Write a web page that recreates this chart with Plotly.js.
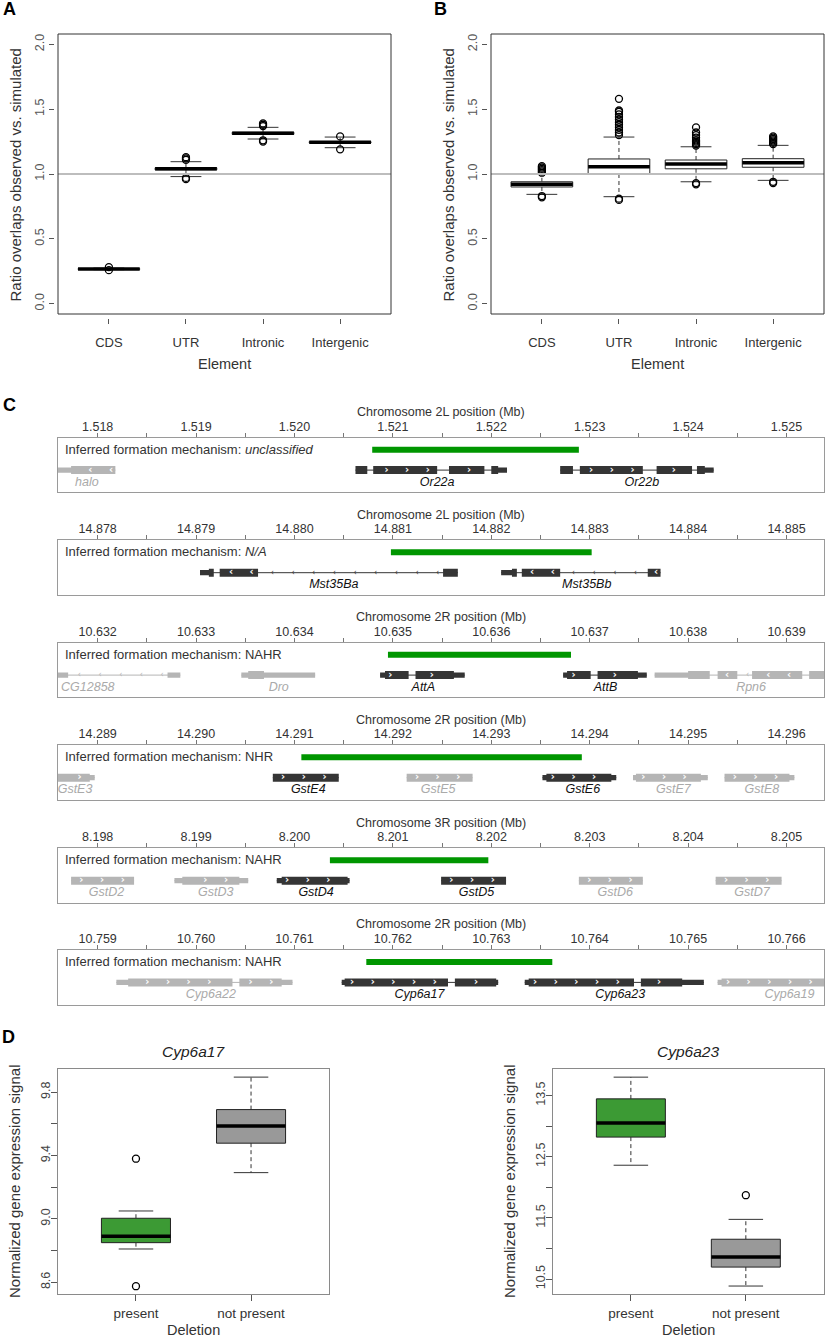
<!DOCTYPE html>
<html>
<head>
<meta charset="utf-8">
<script src="https://cdn.plot.ly/plotly-3.0.1.min.js"></script>
<style>
  body { margin: 0; background: #fff; }
  #plot { width: 827px; height: 1337px; }
</style>
</head>
<body>
<div id="plot"></div>
<script>
const W = 827, H = 1337;
const FONT = 'Liberation Sans, Arial, sans-serif';

// ---------- panels A and B: overlap ratio observed vs. simulated ----------
const elements = ['CDS', 'UTR', 'Intronic', 'Intergenic'];
const ratioTicks = [0, 0.5, 1, 1.5, 2];
const ratioTickText = ['0.0', '0.5', '1.0', '1.5', '2.0'];
const expectedRatio = 1.0;

const aLow  = [0.262, 0.98, 1.27, 1.203];
const aQ1   = [0.264, 1.032, 1.306, 1.239];
const aMed  = [0.267, 1.04, 1.314, 1.244];
const aQ3   = [0.270, 1.048, 1.322, 1.25];
const aHigh = [0.274, 1.095, 1.36, 1.285];
const aOutliers = [
  [0.258, 0.282],
  [0.96, 0.97, 1.11, 1.12, 1.13],
  [1.25, 1.26, 1.37, 1.38, 1.39],
  [1.19, 1.29]
];

const bLow  = [0.843, 0.825, 0.94, 0.951];
const bQ1   = [0.90, 1.0, 1.04, 1.052];
const bMed  = [0.92, 1.056, 1.077, 1.087];
const bQ3   = [0.94, 1.116, 1.108, 1.118];
const bHigh = [1.0, 1.285, 1.21, 1.221];
const bOutliers = [
  [0.82, 0.83, 1.01, 1.02, 1.03, 1.04, 1.05, 1.06],
  [0.80, 0.81, 1.30, 1.32, 1.34, 1.36, 1.38, 1.40, 1.42, 1.44, 1.46, 1.48, 1.49, 1.58],
  [0.92, 0.93, 1.22, 1.23, 1.24, 1.25, 1.26, 1.28, 1.30, 1.32, 1.36],
  [0.93, 0.94, 1.23, 1.24, 1.25, 1.26, 1.27, 1.28, 1.29]
];

// ---------- panel C: deletion tracks ----------
const trackChrom = ['2L', '2L', '2R', '2R', '3R', '2R'];
const trackMechanism = ['<i>unclassified</i>', '<i>N/A</i>', 'NAHR', 'NHR', 'NAHR', 'NAHR'];
const trackTicks = [
  [1.518, 1.519, 1.520, 1.521, 1.522, 1.523, 1.524, 1.525],
  [14.878, 14.879, 14.880, 14.881, 14.882, 14.883, 14.884, 14.885],
  [10.632, 10.633, 10.634, 10.635, 10.636, 10.637, 10.638, 10.639],
  [14.289, 14.290, 14.291, 14.292, 14.293, 14.294, 14.295, 14.296],
  [8.198, 8.199, 8.200, 8.201, 8.202, 8.203, 8.204, 8.205],
  [10.759, 10.760, 10.761, 10.762, 10.763, 10.764, 10.765, 10.766]
];
const deletionStart = [1.52079, 14.88098, 10.63495, 14.29107, 8.20036, 10.76173];
const deletionEnd   = [1.52289, 14.88302, 10.63681, 14.29392, 8.20197, 10.76362];

// hit = gene overlapped by the deletion (drawn dark)
const trackGenes = [
  [
    {name: 'halo', strand: '-', hit: false, utr: [[1.51740, 1.51773]], cds: [[1.51773, 1.51818]], labelAt: 1.51789},
    {name: 'Or22a', strand: '+', hit: true, utr: [[1.52207, 1.52216]],
     cds: [[1.52062, 1.52074], [1.52080, 1.52145], [1.52157, 1.52193], [1.52200, 1.52207]], labelAt: 1.52145},
    {name: 'Or22b', strand: '+', hit: true, utr: [[1.52417, 1.52426]],
     cds: [[1.52270, 1.52283], [1.52290, 1.52354], [1.52368, 1.52404], [1.52409, 1.52417]], labelAt: 1.52353}
  ],
  [
    {name: 'Mst35Ba', strand: '-', hit: true, utr: [[14.87904, 14.87913]],
     cds: [[14.87913, 14.87918], [14.87924, 14.87963], [14.88151, 14.88166]], labelAt: 14.88040},
    {name: 'Mst35Bb', strand: '-', hit: true, utr: [[14.88210, 14.88221]],
     cds: [[14.88221, 14.88226], [14.88231, 14.88270], [14.88359, 14.88372]], labelAt: 14.88297}
  ],
  [
    {name: 'CG12858', strand: '-', hit: false, utr: [[10.63150, 10.63170], [10.63271, 10.63284]], cds: [], labelAt: 10.63190},
    {name: 'Dro', strand: '+', hit: false, utr: [[10.63346, 10.63353], [10.63369, 10.63421]], cds: [[10.63353, 10.63369]], labelAt: 10.63384},
    {name: 'AttA', strand: '+', hit: true, utr: [[10.63487, 10.63492], [10.63562, 10.63573]],
     cds: [[10.63492, 10.63516], [10.63523, 10.63562]], labelAt: 10.63531},
    {name: 'AttB', strand: '+', hit: true, utr: [[10.63673, 10.63677], [10.63749, 10.63758]],
     cds: [[10.63677, 10.63701], [10.63708, 10.63749]], labelAt: 10.63716},
    {name: 'Rpn6', strand: '-', hit: false, utr: [[10.63766, 10.63800]],
     cds: [[10.63800, 10.63822], [10.63830, 10.63850], [10.63865, 10.63916], [10.63923, 10.63970]], labelAt: 10.63864}
  ],
  [
    {name: 'GstE3', strand: '+', hit: false, utr: [[14.28892, 14.28897]], cds: [[14.28850, 14.28892]], labelAt: 14.28877},
    {name: 'GstE4', strand: '+', hit: true, utr: [], cds: [[14.29078, 14.29145]], labelAt: 14.29114},
    {name: 'GstE5', strand: '+', hit: false, utr: [], cds: [[14.29214, 14.29281]], labelAt: 14.29246},
    {name: 'GstE6', strand: '+', hit: true, utr: [[14.29352, 14.29356], [14.29422, 14.29427]], cds: [[14.29356, 14.29422]], labelAt: 14.29393},
    {name: 'GstE7', strand: '+', hit: false, utr: [[14.29444, 14.29447], [14.29513, 14.29520]], cds: [[14.29447, 14.29513]], labelAt: 14.29485},
    {name: 'GstE8', strand: '+', hit: false, utr: [[14.29603, 14.29608]], cds: [[14.29537, 14.29603]], labelAt: 14.29575}
  ],
  [
    {name: 'GstD2', strand: '+', hit: false, utr: [], cds: [[8.19773, 8.19837]], labelAt: 8.19809},
    {name: 'GstD3', strand: '+', hit: false, utr: [[8.19878, 8.19886], [8.19944, 8.19953]], cds: [[8.19886, 8.19944]], labelAt: 8.19920},
    {name: 'GstD4', strand: '+', hit: true, utr: [[8.19982, 8.19987], [8.20054, 8.20056]], cds: [[8.19987, 8.20054]], labelAt: 8.20022},
    {name: 'GstD5', strand: '+', hit: true, utr: [], cds: [[8.20149, 8.20215]], labelAt: 8.20185},
    {name: 'GstD6', strand: '+', hit: false, utr: [], cds: [[8.20289, 8.20354]], labelAt: 8.20326},
    {name: 'GstD7', strand: '+', hit: false, utr: [], cds: [[8.20428, 8.20495]], labelAt: 8.20465}
  ],
  [
    {name: 'Cyp6a22', strand: '+', hit: false, utr: [[10.75919, 10.75931], [10.76087, 10.76098]],
     cds: [[10.75931, 10.76037], [10.76044, 10.76087]], labelAt: 10.76015},
    {name: 'Cyp6a17', strand: '+', hit: true, utr: [[10.76148, 10.76151], [10.76305, 10.76307]],
     cds: [[10.76151, 10.76256], [10.76263, 10.76305]], labelAt: 10.76227},
    {name: 'Cyp6a23', strand: '+', hit: true, utr: [[10.76334, 10.76338], [10.76494, 10.76516]],
     cds: [[10.76338, 10.76445], [10.76452, 10.76494]], labelAt: 10.76431},
    {name: 'Cyp6a19', strand: '+', hit: false, utr: [[10.76530, 10.76534]], cds: [[10.76534, 10.76670]], labelAt: 10.76603}
  ]
];

// ---------- panel D: expression vs. deletion status ----------
const deletionGroups = ['present', 'not present'];
const cyp17Low  = [8.81, 9.292];
const cyp17Q1   = [8.85, 9.478];
const cyp17Med  = [8.89, 9.587];
const cyp17Q3   = [9.004, 9.69];
const cyp17High = [9.05, 9.895];
const cyp17Outliers = [[8.575, 9.38], []];
const cyp17Ticks = [8.6, 8.8, 9.0, 9.2, 9.4, 9.6, 9.8];
const cyp17TickText = ['8.6', '', '9.0', '', '9.4', '', '9.8'];

const cyp23Low  = [12.36, 10.385];
const cyp23Q1   = [12.82, 10.695];
const cyp23Med  = [13.05, 10.86];
const cyp23Q3   = [13.445, 11.15];
const cyp23High = [13.80, 11.475];
const cyp23Outliers = [[], [11.87]];
const cyp23Ticks = [10.5, 11, 11.5, 12, 12.5, 13, 13.5];
const cyp23TickText = ['10.5', '', '11.5', '', '12.5', '', '13.5'];

// ---------- helpers ----------
const px = x => x / W;
const py = y => 1 - y / H;
const GREEN = '#009600';
const DARK_GENE = '#353535';
const GREY_GENE = '#b5b5b5';

function boxplot(ax, low, q1, med, q3, high, outliers, fills, boxW) {
  const common = {type: 'scatter', xaxis: 'x' + ax, yaxis: 'y' + ax, hoverinfo: 'skip', showlegend: false};
  const out = [];
  const wx = [], wy = [], sx = [], sy = [];
  med.forEach((m, i) => {
    const c = i + 1;
    wx.push(c, c, null, c, c, null);
    wy.push(q3[i], high[i], null, q1[i], low[i], null);
    sx.push(c - boxW / 4, c + boxW / 4, null, c - boxW / 4, c + boxW / 4, null);
    sy.push(high[i], high[i], null, low[i], low[i], null);
  });
  out.push({...common, mode: 'lines', x: wx, y: wy, line: {color: '#333', width: 1, dash: '4px,3px'}});
  out.push({...common, mode: 'lines', x: sx, y: sy, line: {color: '#333', width: 1}});
  med.forEach((m, i) => {
    const c = i + 1, l = c - boxW / 2, r = c + boxW / 2;
    out.push({...common, mode: 'lines', x: [l, r, r, l, l], y: [q1[i], q1[i], q3[i], q3[i], q1[i]],
      fill: 'toself', fillcolor: fills[i], line: {color: '#222', width: 1}});
    out.push({...common, mode: 'lines', x: [l, r], y: [m, m], line: {color: '#000', width: 3.5}});
  });
  const ox = [], oy = [];
  outliers.forEach((vals, i) => vals.forEach(v => { ox.push(i + 1); oy.push(v); }));
  out.push({...common, mode: 'markers', x: ox, y: oy,
    marker: {symbol: 'circle-open', size: 7, color: '#000', line: {width: 1.3}}});
  return out;
}

// y positions inside a track, in track units (0 = top of the frame)
const TRACK_H = 54.5;
const BAR_Y = 12, GENE_Y = 32.4, LABEL_Y = 45;
const CDS_HALF = 4, UTR_HALF = 2.6;

function geneTraces(g, n, xmin, xmax) {
  const col = g.hit ? DARK_GENE : GREY_GENE;
  const common = {type: 'scatter', xaxis: 'x' + n, yaxis: 'y' + n, hoverinfo: 'skip', showlegend: false};
  const parts = g.cds.map(p => [p[0], p[1], CDS_HALF]).concat(g.utr.map(p => [p[0], p[1], UTR_HALF]));
  parts.sort((a, b) => a[0] - b[0]);
  const gs = parts[0][0], ge = Math.max(...parts.map(p => p[1]));
  const out = [];
  // intron backbone
  out.push({...common, mode: 'lines', x: [gs, ge], y: [GENE_Y, GENE_Y], line: {color: col, width: 1}});
  // exon blocks
  const bx = [], by = [];
  parts.forEach(p => {
    bx.push(p[0], p[1], p[1], p[0], p[0], null);
    by.push(GENE_Y - p[2], GENE_Y - p[2], GENE_Y + p[2], GENE_Y + p[2], GENE_Y - p[2], null);
  });
  out.push({...common, mode: 'lines', x: bx, y: by, fill: 'toself', fillcolor: col, line: {color: col, width: 0}});
  // strand chevrons, only where visible inside the frame
  const step = 0.00021, margin = 0.00004;
  const glyph = g.strand === '+' ? '\u203A' : '\u2039';
  const cx = [], ix = [];
  for (let p = gs + step / 2; p < ge; p += step) {
    if (p < xmin + margin || p > xmax - margin) continue;
    const inCds = g.cds.some(c => p > c[0] + margin && p < c[1] - margin);
    const nearPart = parts.some(c => p > c[0] - margin && p < c[1] + margin);
    if (inCds) cx.push(p);
    else if (!nearPart) ix.push(p);
  }
  out.push({...common, mode: 'text', x: cx, y: cx.map(() => GENE_Y), text: cx.map(() => glyph),
    textfont: {family: 'DejaVu Sans', size: 10, color: '#ffffff', weight: 'bold'}, textposition: 'middle center'});
  out.push({...common, mode: 'text', x: ix, y: ix.map(() => GENE_Y), text: ix.map(() => glyph),
    textfont: {family: 'DejaVu Sans', size: 8, color: col}, textposition: 'middle center'});
  // gene name
  out.push({...common, mode: 'text', x: [g.labelAt], y: [LABEL_Y], text: ['<i>' + g.name + '</i>'],
    textfont: {family: FONT, size: 12.5, color: g.hit ? '#111' : '#aaaaaa'}, textposition: 'middle center', cliponaxis: false});
  return out;
}

// ---------- build traces ----------
const traces = [];
const fillsAB = elements.map(() => '#ffffff');

traces.push(...boxplot('', aLow, aQ1, aMed, aQ3, aHigh, aOutliers, fillsAB, 0.8));
traces.push({type: 'scatter', mode: 'lines', x: [0.34, 4.66], y: [expectedRatio, expectedRatio],
  xaxis: 'x', yaxis: 'y', line: {color: '#bdbdbd', width: 2}, hoverinfo: 'skip', showlegend: false});
traces.push(...boxplot('2', bLow, bQ1, bMed, bQ3, bHigh, bOutliers, fillsAB, 0.8));
traces.push({type: 'scatter', mode: 'lines', x: [0.34, 4.66], y: [expectedRatio, expectedRatio],
  xaxis: 'x2', yaxis: 'y2', line: {color: '#bdbdbd', width: 2}, hoverinfo: 'skip', showlegend: false});

const trackRange = trackTicks.map(t => [t[0] - 0.000403, t[0] + 0.007381]);

trackGenes.forEach((genes, k) => {
  const n = k + 3;
  traces.push({type: 'scatter', mode: 'lines', x: [deletionStart[k], deletionEnd[k]], y: [BAR_Y, BAR_Y],
    xaxis: 'x' + n, yaxis: 'y' + n, line: {color: GREEN, width: 6}, hoverinfo: 'skip', showlegend: false});
  genes.forEach(g => traces.push(...geneTraces(g, n, trackRange[k][0], trackRange[k][1])));
});

const groupFills = ['#3c9a34', '#999999'];
traces.push(...boxplot('9', cyp17Low, cyp17Q1, cyp17Med, cyp17Q3, cyp17High, cyp17Outliers, groupFills, 0.6));
traces.push(...boxplot('10', cyp23Low, cyp23Q1, cyp23Med, cyp23Q3, cyp23High, cyp23Outliers, groupFills, 0.6));

// ---------- layout ----------
const layout = {
  width: W, height: H,
  margin: {l: 0, r: 0, t: 0, b: 0},
  paper_bgcolor: '#ffffff', plot_bgcolor: 'rgba(0,0,0,0)',
  showlegend: false, hovermode: false,
  font: {family: FONT, size: 12, color: '#333'},
  annotations: [], shapes: []
};

// A and B: R-style axes, detached from the frame
[['', 58, 391], ['2', 491, 824]].forEach(([ax, left, right]) => {
  layout['xaxis' + ax] = {
    domain: [px(left), px(right)], anchor: 'free', position: py(317.5),
    range: [0.34, 4.66], tickmode: 'array', tickvals: [1, 2, 3, 4], ticktext: elements,
    ticks: 'outside', ticklen: 5, tickcolor: '#555', showline: false, showgrid: false, zeroline: false,
    ticklabelstandoff: 8, tickfont: {size: 13, color: '#333'}
  };
  layout['yaxis' + ax] = {
    domain: [py(314), py(34)], anchor: 'free', position: px(left - 4),
    range: [-0.08, 2.08], tickmode: 'array', tickvals: ratioTicks, ticktext: ratioTickText,
    tickangle: -90, ticks: 'outside', ticklen: 5, tickcolor: '#555', showline: false, showgrid: false, zeroline: false,
    tickfont: {size: 12.5, color: '#555'}
  };
  layout.shapes.push({type: 'rect', xref: 'x' + ax + ' domain', yref: 'y' + ax + ' domain',
    x0: 0, x1: 1, y0: 0, y1: 1, line: {color: '#333', width: 1}});
  const mid = (left + right) / 2;
  layout.annotations.push(
    {text: 'Element', xref: 'paper', yref: 'paper', x: px(mid), y: py(364), showarrow: false,
     xanchor: 'center', yanchor: 'middle', font: {size: 14.5, color: '#333'}},
    {text: 'Ratio overlaps observed vs. simulated', xref: 'paper', yref: 'paper', x: px(left - 42.5), y: py(175),
     textangle: -90, showarrow: false, xanchor: 'center', yanchor: 'middle', font: {size: 15, color: '#333'}}
  );
});

// C: six genome tracks
const trackTop = [437.7, 540.3, 642.7, 745.3, 848.3, 950];
trackTicks.forEach((ticks, k) => {
  const n = k + 3;
  const vals = [], text = [];
  ticks.forEach((t, i) => {
    vals.push(t); text.push(t.toFixed(3));
    if (i < ticks.length - 1) { vals.push((t + ticks[i + 1]) / 2); text.push(''); }
  });
  const top = trackTop[k];
  layout['xaxis' + n] = {
    domain: [px(58), px(824)], anchor: 'y' + n, side: 'top',
    range: trackRange[k], tickmode: 'array', tickvals: vals, ticktext: text,
    ticks: 'outside', ticklen: 4, tickcolor: '#777', showline: true, linecolor: '#9a9a9a', mirror: true,
    showgrid: false, zeroline: false, ticklabelstandoff: -3, tickfont: {size: 12.5, color: '#333'}
  };
  layout['yaxis' + n] = {
    domain: [py(top + TRACK_H), py(top)], anchor: 'x' + n, range: [TRACK_H, 0],
    showticklabels: false, ticks: '', showgrid: false, zeroline: false,
    showline: true, linecolor: '#9a9a9a', mirror: true
  };
  layout.annotations.push(
    {text: 'Chromosome ' + trackChrom[k] + ' position (Mb)', xref: 'x' + n + ' domain', yref: 'paper',
     x: 0.5, y: py(top - 25.7), showarrow: false, xanchor: 'center', yanchor: 'middle', font: {size: 12.5, color: '#333'}},
    {text: 'Inferred formation mechanism: ' + trackMechanism[k], xref: 'x' + n + ' domain', yref: 'y' + n,
     x: 0.006, y: 11.3, showarrow: false, xanchor: 'left', yanchor: 'middle', font: {size: 13, color: '#333'}}
  );
});

// D: expression box plots
[['9', 57.7, 329.3, [8.524, 9.945], cyp17Ticks, cyp17TickText, 'Cyp6a17'],
 ['10', 552.7, 824, [10.25, 13.93], cyp23Ticks, cyp23TickText, 'Cyp6a23']].forEach(([ax, left, right, yr, tv, tt, gene]) => {
  layout['xaxis' + ax] = {
    domain: [px(left), px(right)], anchor: 'y' + ax, range: [0.32, 2.68],
    tickmode: 'array', tickvals: [1, 2], ticktext: deletionGroups,
    ticks: 'outside', ticklen: 6, tickcolor: '#555', showline: true, linecolor: '#8a8a8a', mirror: true,
    showgrid: false, zeroline: false, tickfont: {size: 13.5, color: '#333'}
  };
  layout['yaxis' + ax] = {
    domain: [py(1294.3), py(1069.2)], anchor: 'x' + ax, range: yr,
    tickmode: 'array', tickvals: tv, ticktext: tt, tickangle: -90,
    ticks: 'outside', ticklen: 6, tickcolor: '#555', showline: true, linecolor: '#8a8a8a', mirror: true,
    showgrid: false, zeroline: false, ticklabelstandoff: -4, tickfont: {size: 12.5, color: '#444'}
  };
  const mid = (left + right) / 2;
  layout.annotations.push(
    {text: '<i>' + gene + '</i>', xref: 'paper', yref: 'paper', x: px(mid), y: py(1051.7), showarrow: false,
     xanchor: 'center', yanchor: 'middle', font: {size: 15.5, color: '#222'}},
    {text: 'Deletion', xref: 'paper', yref: 'paper', x: px(mid), y: py(1329.5), showarrow: false,
     xanchor: 'center', yanchor: 'middle', font: {size: 14.5, color: '#333'}},
    {text: 'Normalized gene expression signal', xref: 'paper', yref: 'paper', x: px(left - 42.5), y: py(1181.8),
     textangle: -90, showarrow: false, xanchor: 'center', yanchor: 'middle', font: {size: 15, color: '#333'}}
  );
});

// panel letters
[['A', 1, 9], ['B', 432, 9], ['C', 1, 405], ['D', 0, 1037]].forEach(([t, x, y]) => {
  layout.annotations.push({text: '<b>' + t + '</b>', xref: 'paper', yref: 'paper', x: px(x), y: py(y),
    showarrow: false, xanchor: 'left', yanchor: 'middle', font: {size: 18, color: '#000'}});
});

Plotly.newPlot('plot', traces, layout, {staticPlot: true});
</script>
</body>
</html>
